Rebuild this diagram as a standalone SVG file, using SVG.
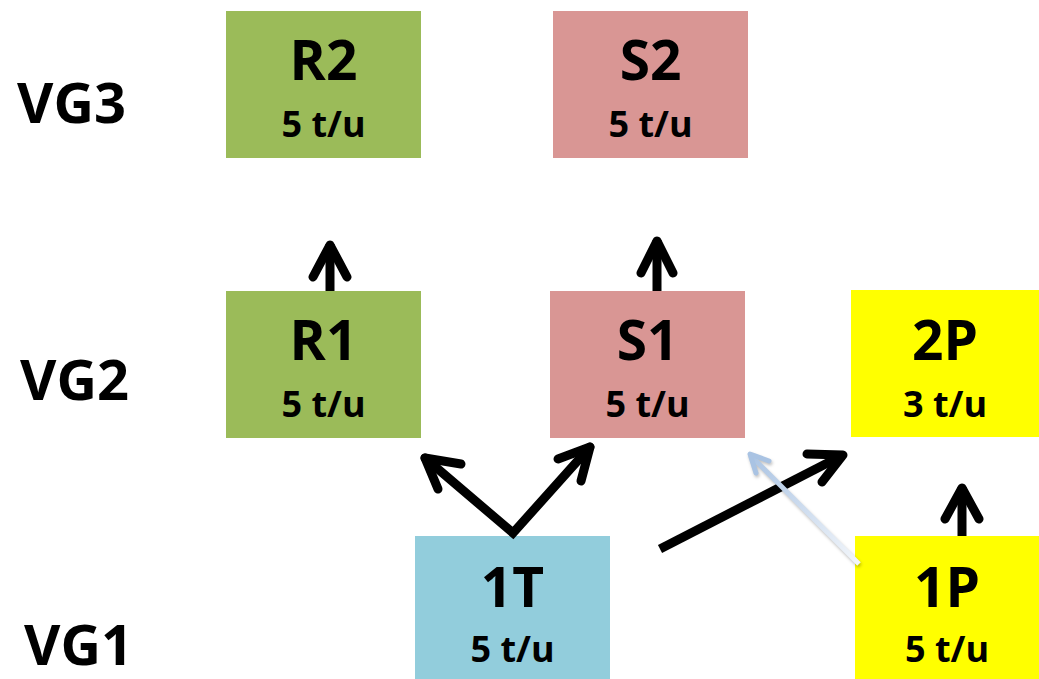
<svg xmlns="http://www.w3.org/2000/svg" width="1039" height="679" viewBox="0 0 1039 679">
<style>
.t{font-family:"Open Sans","Liberation Sans",sans-serif;font-weight:bold;fill:#000;text-anchor:middle}
.h{font-size:55px}
.s{font-size:36px}
.vg{font-family:"Open Sans","Liberation Sans",sans-serif;font-weight:bold;font-size:56px;fill:#000}
.a{fill:none;stroke:#000;stroke-width:9;stroke-linecap:round;stroke-linejoin:round}
</style>
<defs>
<linearGradient id="lb" gradientUnits="userSpaceOnUse" x1="860" y1="565" x2="748" y2="453">
<stop offset="0" stop-color="#f4f7fb"/>
<stop offset="1" stop-color="#a9c3e3"/>
</linearGradient>
</defs>
<rect width="1039" height="679" fill="#fff"/>
<g id="labels">
<text class="vg" x="17" y="123">VG3</text>
<text class="vg" x="20" y="400">VG2</text>
<text class="vg" x="24" y="665">VG1</text>
</g>
<g id="R2"><rect x="226" y="11" width="195" height="147" fill="#9BBB59"/><text class="t h" x="323.5" y="80">R2</text><text class="t s" x="323.5" y="137">5 t/u</text></g>
<g id="S2"><rect x="553" y="11" width="195" height="147" fill="#D99694"/><text class="t h" x="650.5" y="80">S2</text><text class="t s" x="650.5" y="137">5 t/u</text></g>
<g id="R1"><rect x="226" y="291" width="195" height="147" fill="#9BBB59"/><text class="t h" x="323.5" y="360">R1</text><text class="t s" x="323.5" y="417">5 t/u</text></g>
<g id="S1"><rect x="550" y="291" width="195" height="147" fill="#D99694"/><text class="t h" x="647.5" y="360">S1</text><text class="t s" x="647.5" y="417">5 t/u</text></g>
<g id="P2"><rect x="851" y="290" width="188" height="147" fill="#FFFF00"/><text class="t h" x="945" y="360">2P</text><text class="t s" x="945" y="417">3 t/u</text></g>
<g id="T1"><rect x="415" y="536" width="195" height="143" fill="#92CDDC"/><text class="t h" x="512.5" y="607">1T</text><text class="t s" x="512.5" y="662">5 t/u</text></g>
<g id="P1"><rect x="855" y="536" width="184" height="143" fill="#FFFF00"/><text class="t h" x="947" y="607">1P</text><text class="t s" x="947" y="662">5 t/u</text></g>
<g id="connectors">
<line class="a" x1="330" y1="291" x2="330" y2="244" style="stroke-linecap:butt"/>
<polyline class="a" points="313,277 330,245 347,277"/>
<line class="a" x1="657" y1="291" x2="657" y2="240" style="stroke-linecap:butt"/>
<polyline class="a" points="641,273 657,241 673,273"/>
<line class="a" x1="962" y1="536" x2="962" y2="487" style="stroke-linecap:butt"/>
<polyline class="a" points="945,519 962,488 979,519"/>
<polyline class="a" points="425,458 513,533 590,447" style="stroke-linejoin:miter"/>
<polyline class="a" points="461,464 425,458 438,489"/>
<polyline class="a" points="558,459 590,447 581,481"/>
<line class="a" x1="660" y1="549" x2="843" y2="455" style="stroke-linecap:butt"/>
<polyline class="a" points="807,454 843,455 822,482"/>
<g style="filter:drop-shadow(1px 2px 1.5px rgba(0,0,0,0.25))">
<line x1="859" y1="564" x2="751" y2="456" stroke="url(#lb)" stroke-width="5"/>
<polyline points="769,461 750,454 756,473" fill="none" stroke="#a9c3e3" stroke-width="5" stroke-linecap="round" stroke-linejoin="round"/>
</g>
</g>
</svg>
